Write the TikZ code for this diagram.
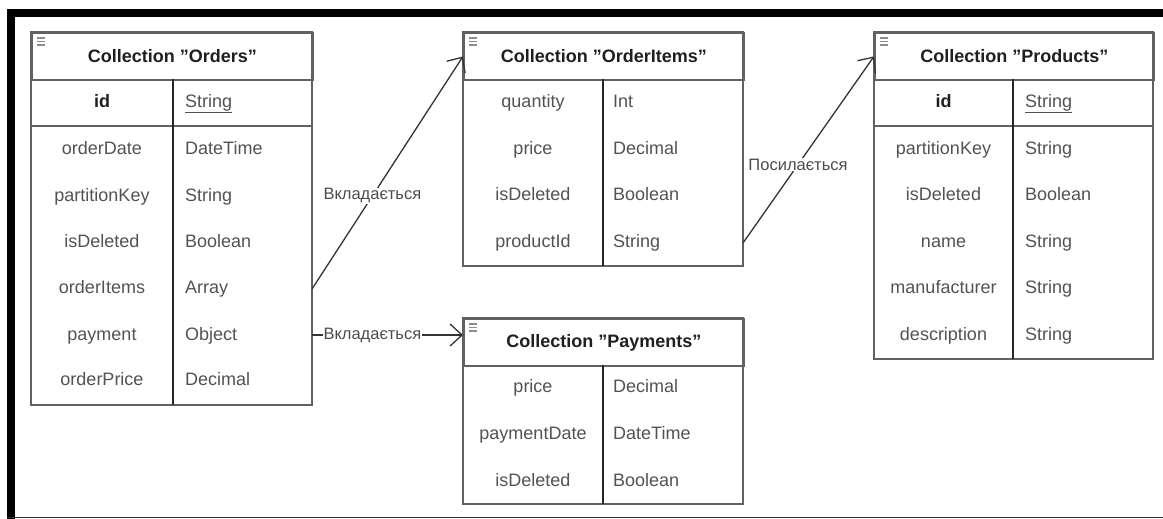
\documentclass[tikz,border=0pt]{standalone}
\usepackage{fontspec}
\setmainfont{Liberation Sans}
\usetikzlibrary{arrows.meta}
\tikzset{
  tline/.style={draw=black!62, line width=1.8pt},
  divline/.style={draw=black!85, line width=1.4pt},
  hdr/.style={tline, anchor=north west, minimum height=47pt, inner sep=0pt,
    font=\fontsize{18}{20}\selectfont\bfseries, text=black!88},
  cell/.style={inner sep=0pt, font=\fontsize{18}{20}\selectfont, text=black!68,
    text height=13pt, text depth=4pt},
  lcell/.style={cell, anchor=center},
  rcell/.style={cell, anchor=west},
  idcell/.style={cell, anchor=center, font=\fontsize{18}{20}\selectfont\bfseries, text=black!88},
  lbl/.style={fill=white, inner sep=1pt, font=\fontsize{16.5}{18}\selectfont, text=black!70},
  conn/.style={draw=black!80, line width=1.3pt, -{Straight Barb[length=12pt,width=22pt,line width=1.3pt]}},
  icon/.style={draw=black!45, line width=1.2pt}
}
\begin{document}
\begin{tikzpicture}[x=1pt,y=-1pt]
\useasboundingbox (0,0) rectangle (1163,519);
% frame
\fill[black] (7,9) rectangle (1163,17);
\fill[black] (7,9) rectangle (15,519);
\draw[black!80, line width=1.5pt] (7,517.5) -- (1163,517.5);

% ---------- Orders ----------
\draw[tline] (31,32) rectangle (312,405);
\node[hdr, minimum width=281pt] (ordersH) at (31,32) {Collection "Orders"};
\draw[tline] (31,126) -- (312,126);
\draw[divline] (173,79) -- (173,405);
\foreach \y in {38,41.5,45} \draw[icon] (37,\y) -- (45,\y);
\node[idcell] (oid) at (102,103) {id};
\node[rcell] (oidt) at (185,103) {\underline{String}};
\node[lcell] (o1) at (102,150) {orderDate};
\node[rcell] (o1t) at (185,150) {DateTime};
\node[lcell] (o2) at (102,197) {partitionKey};
\node[rcell] (o2t) at (185,197) {String};
\node[lcell] (o3) at (102,243) {isDeleted};
\node[rcell] (o3t) at (185,243) {Boolean};
\node[lcell] (o4) at (102,289) {orderItems};
\node[rcell] (o4t) at (185,289) {Array};
\node[lcell] (o5) at (102,336) {payment};
\node[rcell] (o5t) at (185,336) {Object};
\node[lcell] (o6) at (102,381) {orderPrice};
\node[rcell] (o6t) at (185,381) {Decimal};
\coordinate (ordersItemsR) at (312,289);
\coordinate (ordersPayR) at (312,335);

% ---------- OrderItems ----------
\draw[tline] (463,32) rectangle (743,266);
\node[hdr, minimum width=280pt] (oitemsH) at (463,32) {Collection "OrderItems"};
\draw[divline] (603,79) -- (603,266);
\foreach \y in {38,41.5,45} \draw[icon] (469,\y) -- (477,\y);
\node[lcell] (i1) at (533,103) {quantity};
\node[rcell] (i1t) at (613,103) {Int};
\node[lcell] (i2) at (533,150) {price};
\node[rcell] (i2t) at (613,150) {Decimal};
\node[lcell] (i3) at (533,196) {isDeleted};
\node[rcell] (i3t) at (613,196) {Boolean};
\node[lcell] (i4) at (533,243) {productId};
\node[rcell] (i4t) at (613,243) {String};
\coordinate (itemsProdR) at (743,243);

% ---------- Payments ----------
\draw[tline] (463,318) rectangle (743,504);
\node[hdr, minimum width=280pt] (payH) at (463,318) {Collection "Payments"};
\draw[divline] (603,365) -- (603,504);
\foreach \y in {324,327.5,331} \draw[icon] (469,\y) -- (477,\y);
\node[lcell] (p1) at (533,388) {price};
\node[rcell] (p1t) at (613,388) {Decimal};
\node[lcell] (p2) at (533,435) {paymentDate};
\node[rcell] (p2t) at (613,435) {DateTime};
\node[lcell] (p3) at (533,482) {isDeleted};
\node[rcell] (p3t) at (613,482) {Boolean};
\coordinate (payIn) at (463,335);

% ---------- Products ----------
\draw[tline] (874,32) rectangle (1153,359);
\node[hdr, minimum width=279pt] (prodH) at (874,32) {Collection "Products"};
\draw[tline] (874,126) -- (1153,126);
\draw[divline] (1013,79) -- (1013,359);
\foreach \y in {38,41.5,45} \draw[icon] (880,\y) -- (888,\y);
\node[idcell] (pid) at (943.5,103) {id};
\node[rcell] (pidt) at (1025,103) {\underline{String}};
\node[lcell] (r1) at (943.5,150) {partitionKey};
\node[rcell] (r1t) at (1025,150) {String};
\node[lcell] (r2) at (943.5,196) {isDeleted};
\node[rcell] (r2t) at (1025,196) {Boolean};
\node[lcell] (r3) at (943.5,243) {name};
\node[rcell] (r3t) at (1025,243) {String};
\node[lcell] (r4) at (943.5,289) {manufacturer};
\node[rcell] (r4t) at (1025,289) {String};
\node[lcell] (r5) at (943.5,336) {description};
\node[rcell] (r5t) at (1025,336) {String};

% ---------- connectors ----------
\draw[conn] (ordersItemsR) -- node[lbl, pos=0.40] {Вкладається} (oitemsH.west);
\draw[conn] (ordersPayR) -- node[lbl, pos=0.40] {Вкладається} (payIn);
\draw[conn] (itemsProdR) -- node[lbl, pos=0.42] {Посилається} (prodH.west);
\end{tikzpicture}
\end{document}
